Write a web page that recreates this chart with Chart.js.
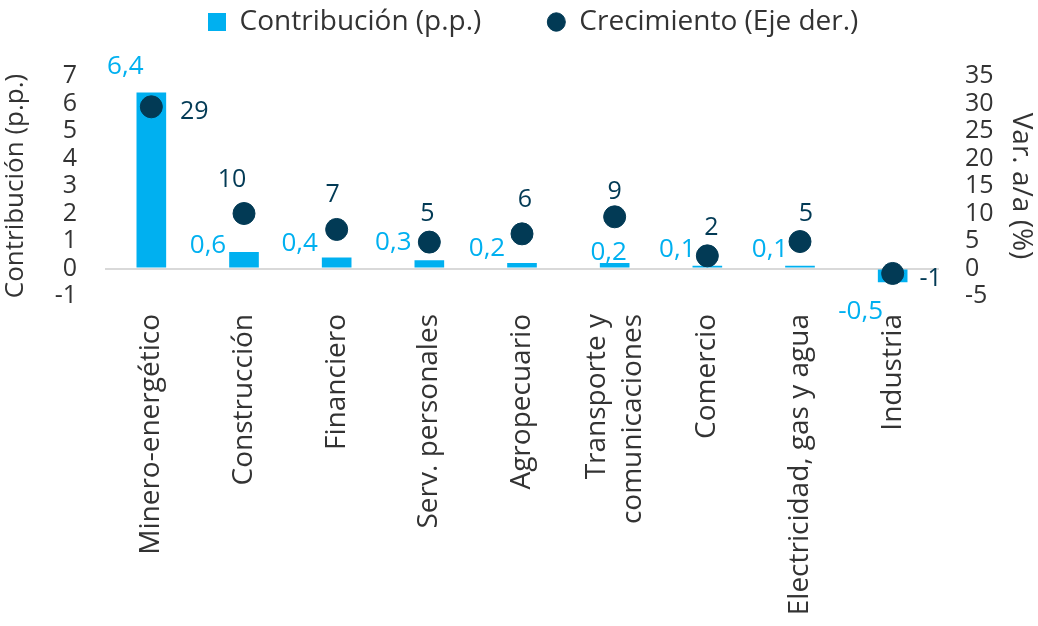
<!DOCTYPE html>
<html>
<head>
<meta charset="utf-8">
<script src="https://cdn.jsdelivr.net/npm/chart.js@4"></script>
<style>
    body { margin: 0; background: #ffffff; }
    #wrap { width: 1038px; height: 626px; }
</style>
</head>
<body>
<div id="wrap"><canvas id="grafico" width="1038" height="626"></canvas></div>
<script>
const sectores = [
    'Minero-energético', 'Construcción', 'Financiero', 'Serv. personales',
    'Agropecuario', ['Transporte y', 'comunicaciones'], 'Comercio',
    'Electricidad, gas y agua', 'Industria'
];
const contribucion = [6.4, 0.6, 0.4, 0.3, 0.2, 0.2, 0.1, 0.1, -0.5];
const crecimiento = [29.4, 10.0, 7.1, 4.8, 6.3, 9.4, 2.3, 4.9, -0.9];
const etiquetasCrecimiento = ['29', '10', '7', '5', '6', '9', '2', '5', '-1'];

const AZUL = '#00b0f0';
const NAVY = '#023a55';
const TEXTO = '#333333';
const FUENTE = "'Open Sans', sans-serif";

// desplazamientos de las etiquetas (dx, dy) respecto a cada marca
const offsetBarras = [[-26, -26], [-36, -6], [-37, -14], [-36, -18], [-35, -14], [-6, -10], [-30, -16], [-30, -16], [-32, 42]];
const offsetPuntos = [[43, 5], [-12, -34], [-4, -35], [-2, -28], [3, -34], [0, -25], [4, -28], [6, -28], [38, 5]];

// cuadrado azul para la leyenda de las barras
const cuadro = document.createElement('canvas');
cuadro.width = 18;
cuadro.height = 18;
const cctx = cuadro.getContext('2d');
cctx.fillStyle = AZUL;
cctx.fillRect(0, 0, 18, 18);

const etiquetasPlugin = {
    id: 'etiquetas',
    afterDatasetsDraw(chart) {
        const ctx = chart.ctx;
        ctx.save();
        ctx.textAlign = 'center';
        ctx.textBaseline = 'middle';

        ctx.font = `26px ${FUENTE}`;
        ctx.fillStyle = AZUL;
        chart.getDatasetMeta(0).data.forEach((bar, i) => {
            const y = contribucion[i] >= 0 ? bar.y : bar.base;
            const txt = contribucion[i].toFixed(1).replace('.', ',');
            ctx.fillText(txt, bar.x + offsetBarras[i][0], y + offsetBarras[i][1]);
        });

        ctx.font = `25px ${FUENTE}`;
        ctx.fillStyle = NAVY;
        chart.getDatasetMeta(1).data.forEach((pt, i) => {
            ctx.fillText(etiquetasCrecimiento[i], pt.x + offsetPuntos[i][0], pt.y + offsetPuntos[i][1]);
        });
        ctx.restore();
    }
};

// centra las etiquetas de varias líneas sobre su categoría
const centrarMultilinea = {
    id: 'centrarMultilinea',
    beforeDraw(chart) {
        const escala = chart.scales.x;
        const alto = 36;
        escala.getLabelItems().forEach(item => {
            const lineas = Array.isArray(item.label) ? item.label.length : 1;
            if (lineas > 1 && !item.centrado) {
                item.options.translation[0] -= (lineas - 1) * alto / 2;
                item.centrado = true;
            }
        });
    }
};

const alturaLeyenda = {
    id: 'alturaLeyenda',
    beforeInit(chart) {
        const fitOriginal = chart.legend.fit;
        chart.legend.fit = function () {
            fitOriginal.bind(chart.legend)();
            this.height = 134;
        };
    },
    afterLayout(chart) {
        chart.legend.left += 14;
        chart.legend.right += 14;
    }
};

new Chart(document.getElementById('grafico'), {
    type: 'bar',
    data: {
        labels: sectores,
        datasets: [{
            label: 'Contribución (p.p.)',
            data: contribucion,
            backgroundColor: AZUL,
            yAxisID: 'y',
            categoryPercentage: 1,
            barPercentage: 0.32,
            order: 2,
            pointStyle: cuadro
        }, {
            type: 'line',
            label: 'Crecimiento (Eje der.)',
            data: crecimiento,
            yAxisID: 'y1',
            showLine: false,
            pointRadius: 11,
            pointHoverRadius: 11,
            pointBackgroundColor: NAVY,
            pointBorderColor: NAVY,
            backgroundColor: NAVY,
            borderColor: NAVY,
            pointStyle: 'circle',
            order: 1
        }]
    },
    options: {
        responsive: false,
        animation: false,
        layout: { padding: { top: -58, left: 0, right: 0, bottom: 0 } },
        plugins: {
            legend: {
                position: 'top',
                labels: {
                    usePointStyle: true,
                    pointStyleWidth: 18,
                    boxHeight: 13,
                    padding: 66,
                    color: TEXTO,
                    font: { family: FUENTE, size: 28 },
                    sort: (a, b) => a.datasetIndex - b.datasetIndex
                }
            },
            tooltip: { enabled: false }
        },
        scales: {
            x: {
                grid: { display: false, drawTicks: false },
                border: { display: false },
                ticks: {
                    color: TEXTO,
                    font: { family: FUENTE, size: 28, lineHeight: 1.3 },
                    minRotation: 90,
                    maxRotation: 90,
                    autoSkip: false,
                    padding: 18
                },
                afterFit: s => { s.height = 330; }
            },
            y: {
                position: 'left',
                min: -1,
                max: 7,
                grid: {
                    drawTicks: false,
                    lineWidth: 2,
                    color: c => c.tick.value === 0 ? '#d9d9d9' : 'rgba(0,0,0,0)'
                },
                border: { display: false },
                ticks: {
                    stepSize: 1,
                    autoSkip: false,
                    color: TEXTO,
                    font: { family: FUENTE, size: 25 },
                    padding: 28
                },
                title: {
                    display: true,
                    text: 'Contribución (p.p.)',
                    color: TEXTO,
                    font: { family: FUENTE, size: 26 },
                    padding: 0
                },
                afterFit: s => { s.width = 105; }
            },
            y1: {
                position: 'right',
                min: -5,
                max: 35,
                grid: { drawOnChartArea: false, drawTicks: false },
                border: { display: false },
                ticks: {
                    stepSize: 5,
                    autoSkip: false,
                    color: TEXTO,
                    font: { family: FUENTE, size: 25 },
                    padding: 26
                },
                title: {
                    display: true,
                    text: 'Var. a/a (%)',
                    color: TEXTO,
                    font: { family: FUENTE, size: 28 },
                    padding: 0
                },
                afterFit: s => { s.width = 99; }
            }
        }
    },
    plugins: [etiquetasPlugin, centrarMultilinea, alturaLeyenda]
});
</script>
</body>
</html>
